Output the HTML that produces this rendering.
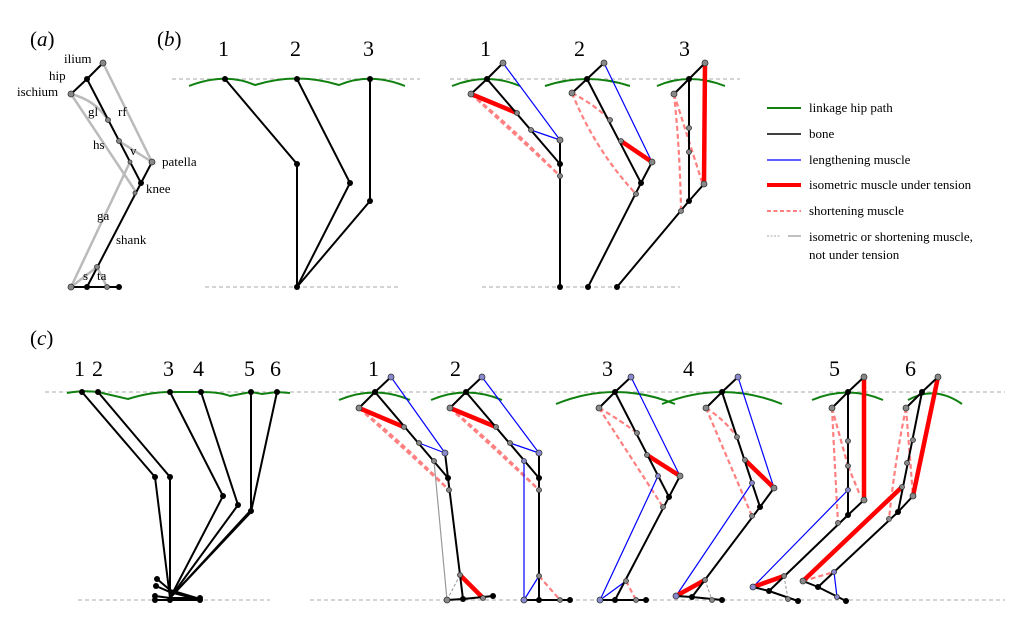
<!DOCTYPE html>
<html><head><meta charset="utf-8"><style>
html,body{margin:0;padding:0;background:#fff;}
svg{display:block;font-family:"Liberation Serif",serif;}
.b{stroke:#000;stroke-width:2;fill:none;stroke-linecap:round}
.g{stroke:#bbb;stroke-width:2.5;fill:none}
.bl{stroke:#0000ff;stroke-width:1.2;fill:none}
.r{stroke:#f00;stroke-width:4.5;fill:none}
.p{stroke:#ff8080;stroke-width:2.2;stroke-dasharray:5,3;fill:none}
.gd{stroke:#999;stroke-width:1;stroke-dasharray:3,2;fill:none}
.gt{stroke:#999;stroke-width:1.2;fill:none}
.h{stroke:#bbb;stroke-width:1.2;stroke-dasharray:4,3;fill:none}
.gr{stroke:#108010;stroke-width:2;fill:none}
.j{fill:#000}
.m{fill:#888;stroke:#333;stroke-width:.8}
.mb{fill:#8888cc;stroke:#333;stroke-width:.8}
.n{font-size:22px}
.t{font-size:13px}
</style></head><body>
<svg width="1023" height="642" viewBox="0 0 1023 642" xmlns="http://www.w3.org/2000/svg">
<!-- panel labels -->
<text x="30" y="46" font-size="21"><tspan>(</tspan><tspan font-style="italic">a</tspan><tspan>)</tspan></text>
<text x="157" y="46" font-size="21"><tspan>(</tspan><tspan font-style="italic">b</tspan><tspan>)</tspan></text>
<text x="30" y="345" font-size="21"><tspan>(</tspan><tspan font-style="italic">c</tspan><tspan>)</tspan></text>

<!-- (a) -->
<g>
<line class="g" x1="103" y1="63" x2="152" y2="162"/>
<path class="g" d="M71 94 Q95 100 108 120"/>
<line class="g" x1="71" y1="94" x2="136" y2="192"/>
<line class="g" x1="119" y1="141" x2="152" y2="162"/>
<line class="g" x1="71" y1="287" x2="130" y2="162"/>
<line class="g" x1="71" y1="287" x2="97" y2="267"/>
<line class="g" x1="97" y1="267" x2="107" y2="287"/>
<polyline class="b" points="103,63 87,79 71,94"/>
<line class="b" x1="87" y1="79" x2="141" y2="183"/>
<line class="b" x1="141" y1="183" x2="152" y2="162"/>
<line class="b" x1="141" y1="183" x2="87" y2="287"/>
<line class="b" x1="71" y1="287" x2="119" y2="287"/>
<circle class="m" cx="103" cy="63" r="3"/><circle class="j" cx="87" cy="79" r="3"/><circle class="m" cx="71" cy="94" r="3"/>
<circle class="m" cx="108" cy="120" r="2.5"/><circle class="m" cx="119" cy="141" r="2.5"/><circle class="m" cx="152" cy="162" r="3"/>
<circle class="j" cx="141" cy="183" r="3"/><circle class="m" cx="135" cy="193" r="2"/><circle class="m" cx="130" cy="162" r="2"/>
<circle class="m" cx="97" cy="267" r="2.5"/><circle class="m" cx="71" cy="287" r="3"/><circle class="j" cx="87" cy="287" r="3"/><circle class="m" cx="107" cy="287" r="2.5"/><circle class="j" cx="119" cy="287" r="3"/>
<g class="t">
<text x="64" y="63">ilium</text><text x="49" y="80">hip</text><text x="17" y="96">ischium</text>
<text x="88" y="116">gl</text><text x="118" y="116">rf</text><text x="93" y="149">hs</text><text x="130" y="155">v</text>
<text x="162" y="166">patella</text><text x="146" y="193">knee</text><text x="97" y="220">ga</text><text x="116" y="244">shank</text>
<text x="83" y="280">s</text><text x="97" y="280">ta</text>
</g>
</g>

<!-- (b) left -->
<line class="h" x1="172" y1="79" x2="420" y2="79"/>
<line class="h" x1="205" y1="287" x2="400" y2="287"/>
<path class="gr" d="M189 86 Q225 72 255 85 Q297 72 339 85 Q370 72 405 86"/>
<polyline class="b" points="225,79 297,164 297,287"/>
<polyline class="b" points="297,79 350,183 297,287"/>
<polyline class="b" points="370,79 370,201 297,287"/>
<g class="j"><circle cx="225" cy="79" r="3"/><circle cx="297" cy="79" r="3"/><circle cx="370" cy="79" r="3"/><circle cx="297" cy="164" r="3"/><circle cx="350" cy="183" r="3"/><circle cx="370" cy="201" r="3"/><circle cx="297" cy="287" r="3"/></g>
<g class="n"><text x="218" y="56">1</text><text x="290" y="56">2</text><text x="363" y="56">3</text></g>

<!-- (b) right -->
<line class="h" x1="450" y1="79" x2="740" y2="79"/>
<line class="h" x1="482" y1="287" x2="680" y2="287"/>
<path class="gr" d="M452 86 Q487 72 520 86"/>
<path class="gr" d="M545 86 Q587 72 630 86"/>
<path class="gr" d="M657 86 Q689 72 725 86"/>
<!-- b1 -->
<line class="p" x1="471" y1="94" x2="560" y2="176"/><path class="p" d="M471 94 Q510 125 560 176"/>
<line class="bl" x1="503" y1="63" x2="560" y2="140"/><line class="bl" x1="531" y1="130" x2="560" y2="140"/>
<line class="r" x1="471" y1="94" x2="517" y2="113"/>
<polyline class="b" points="503,63 487,79 471,94"/><line class="b" x1="487" y1="79" x2="560" y2="164"/><line class="b" x1="560" y1="140" x2="560" y2="287"/>
<circle class="m" cx="503" cy="63" r="3"/><circle class="j" cx="487" cy="79" r="3"/><circle class="m" cx="471" cy="94" r="3"/><circle class="m" cx="517" cy="113" r="2.5"/><circle class="m" cx="531" cy="130" r="2.5"/><circle class="m" cx="560" cy="140" r="3"/><circle class="j" cx="560" cy="164" r="3"/><circle class="m" cx="560" cy="176" r="2.5"/><circle class="j" cx="560" cy="287" r="3"/>
<!-- b2 -->
<path class="p" d="M572 93 Q595 105 610 120"/><path class="p" d="M572 93 Q595 150 636 194"/>
<line class="bl" x1="604" y1="63" x2="652" y2="162"/>
<line class="r" x1="621" y1="141" x2="652" y2="162"/>
<polyline class="b" points="604,63 587,79 572,93"/><polyline class="b" points="587,79 641,183 652,162"/><line class="b" x1="641" y1="183" x2="588" y2="287"/>
<circle class="m" cx="604" cy="63" r="3"/><circle class="j" cx="587" cy="79" r="3"/><circle class="m" cx="572" cy="93" r="3"/><circle class="m" cx="610" cy="120" r="2.5"/><circle class="m" cx="621" cy="141" r="2.5"/><circle class="m" cx="652" cy="162" r="3"/><circle class="j" cx="641" cy="183" r="3"/><circle class="m" cx="636" cy="194" r="2.5"/><circle class="j" cx="588" cy="287" r="3"/>
<!-- b3 -->
<path class="p" d="M674 94 Q680 150 681 211"/><line class="p" x1="674" y1="94" x2="702" y2="182"/>
<line class="r" x1="705" y1="63" x2="704" y2="184"/>
<polyline class="b" points="705,63 689,79 674,94"/><polyline class="b" points="689,79 689,201 704,184"/><line class="b" x1="689" y1="201" x2="617" y2="287"/>
<circle class="m" cx="705" cy="63" r="3"/><circle class="j" cx="689" cy="79" r="3"/><circle class="m" cx="674" cy="94" r="3"/><circle class="m" cx="689" cy="128" r="2.5"/><circle class="m" cx="689" cy="152" r="2.5"/><circle class="m" cx="704" cy="184" r="3"/><circle class="j" cx="689" cy="201" r="3"/><circle class="m" cx="681" cy="211" r="2.5"/><circle class="j" cx="617" cy="287" r="3"/>
<g class="n"><text x="480" y="56">1</text><text x="574" y="56">2</text><text x="679" y="56">3</text></g>

<!-- legend -->
<line x1="767" y1="108" x2="801" y2="108" stroke="#108010" stroke-width="2"/>
<line x1="767" y1="134" x2="801" y2="134" stroke="#000" stroke-width="1.5"/>
<line x1="767" y1="160" x2="801" y2="160" stroke="#00f" stroke-width="1.2"/>
<line x1="767" y1="185" x2="801" y2="185" stroke="#f00" stroke-width="4"/>
<line x1="767" y1="211" x2="801" y2="211" stroke="#ff8080" stroke-width="2" stroke-dasharray="4,2.5"/>
<line x1="767" y1="236" x2="781" y2="236" stroke="#aaa" stroke-width="1" stroke-dasharray="2,1.5"/>
<line x1="788" y1="236" x2="801" y2="236" stroke="#aaa" stroke-width="1.5"/>
<g class="t"><text x="809" y="112">linkage hip path</text><text x="809" y="138">bone</text><text x="809" y="164">lengthening muscle</text><text x="809" y="189">isometric muscle under tension</text><text x="809" y="215">shortening muscle</text><text x="809" y="241">isometric or shortening muscle,</text><text x="809" y="259">not under tension</text></g>

<!-- (c) left -->
<line class="h" x1="45" y1="392" x2="1005" y2="392"/>
<line class="h" x1="78" y1="600" x2="270" y2="600"/>
<line class="h" x1="310" y1="600" x2="1005" y2="600"/>
<path class="gr" d="M67 393 Q82 390 98 392 Q115 396 128 399 Q150 392 170 392 L201 392 Q220 392 230 396 L251 392 L262 394 L277 392 L290 393" stroke-width="1.6"/>
<polyline class="b" points="82,392 155,477 170,598"/>
<polyline class="b" points="98,392 170,477 170,598"/>
<polyline class="b" points="170,392 223,496 170,598"/>
<polyline class="b" points="201,392 238,505 170,598"/>
<polyline class="b" points="251,392 251,510 170,598"/>
<polyline class="b" points="277,392 251,512 170,598"/>
<polyline class="b" points="157,579 170,590 200,599"/>
<polyline class="b" points="156,586 170,592 200,600"/>
<polyline class="b" points="155,596 170,598 200,598"/>
<polyline class="b" points="155,600 170,600 200,600"/>
<g class="j"><circle cx="82" cy="392" r="3"/><circle cx="98" cy="392" r="3"/><circle cx="170" cy="392" r="3"/><circle cx="201" cy="392" r="3"/><circle cx="251" cy="392" r="3"/><circle cx="277" cy="392" r="3"/>
<circle cx="155" cy="477" r="3"/><circle cx="170" cy="477" r="3"/><circle cx="223" cy="496" r="3"/><circle cx="238" cy="505" r="3"/><circle cx="251" cy="511" r="3"/>
<circle cx="157" cy="579" r="3"/><circle cx="156" cy="586" r="3"/><circle cx="155" cy="596" r="3"/><circle cx="155" cy="600" r="3"/><circle cx="170" cy="600" r="3"/><circle cx="200" cy="598" r="3"/><circle cx="200" cy="600" r="3"/></g>
<g class="n"><text x="74" y="376">1</text><text x="92" y="376">2</text><text x="163" y="376">3</text><text x="193" y="376">4</text><text x="244" y="376">5</text><text x="270" y="376">6</text></g>

<!-- (c) right arcs -->
<path class="gr" d="M339 400 Q375 385 410 400"/>
<path class="gr" d="M431 400 Q466 385 502 400"/>
<path class="gr" d="M556 404 Q615 380 675 404"/>
<path class="gr" d="M662 404 Q722 380 782 404"/>
<path class="gr" d="M812 400 Q848 385 883 400"/>
<path class="gr" d="M908 400 Q935 385 962 404"/>

<!-- c1 -->
<line class="p" x1="359" y1="408" x2="449" y2="490"/><path class="p" d="M359 408 Q400 440 449 490"/>
<line class="bl" x1="391" y1="377" x2="445" y2="453"/><line class="bl" x1="419" y1="443" x2="445" y2="453"/>
<line class="gt" x1="434" y1="461" x2="447" y2="600"/><line class="gd" x1="460" y1="575" x2="447" y2="600"/>
<line class="r" x1="359" y1="408" x2="404" y2="427"/><line class="r" x1="460" y1="575" x2="483" y2="598"/>
<polyline class="b" points="391,377 375,392 359,408"/><polyline class="b" points="375,392 448,478 445,453"/><polyline class="b" points="448,478 463,599 493,596"/><line class="b" x1="447" y1="600" x2="463" y2="599"/>
<circle class="mb" cx="391" cy="377" r="3"/><circle class="j" cx="375" cy="392" r="3"/><circle class="m" cx="359" cy="408" r="3"/><circle class="m" cx="404" cy="427" r="2.5"/><circle class="m" cx="419" cy="443" r="2.5"/><circle class="m" cx="434" cy="461" r="2.5"/><circle class="mb" cx="445" cy="453" r="3"/><circle class="j" cx="448" cy="478" r="3"/><circle class="m" cx="449" cy="490" r="2.5"/><circle class="m" cx="460" cy="575" r="2.5"/><circle class="m" cx="447" cy="600" r="3"/><circle class="j" cx="463" cy="599" r="3"/><circle class="m" cx="483" cy="598" r="2.5"/><circle class="j" cx="493" cy="596" r="3"/>
<!-- c2 -->
<line class="p" x1="450" y1="408" x2="539" y2="490"/><path class="p" d="M450 408 Q490 440 539 490"/>
<line class="bl" x1="482" y1="377" x2="539" y2="453"/><line class="bl" x1="510" y1="443" x2="539" y2="453"/><line class="bl" x1="524" y1="461" x2="524" y2="600"/><line class="bl" x1="539" y1="576" x2="524" y2="600"/>
<line class="p" x1="539" y1="576" x2="560" y2="600"/>
<line class="r" x1="450" y1="408" x2="496" y2="427"/>
<polyline class="b" points="482,377 466,392 450,408"/><line class="b" x1="466" y1="392" x2="539" y2="478"/><line class="b" x1="539" y1="453" x2="539" y2="600"/><line class="b" x1="524" y1="600" x2="570" y2="600"/>
<circle class="mb" cx="482" cy="377" r="3"/><circle class="j" cx="466" cy="392" r="3"/><circle class="m" cx="450" cy="408" r="3"/><circle class="m" cx="496" cy="427" r="2.5"/><circle class="m" cx="510" cy="443" r="2.5"/><circle class="mb" cx="524" cy="461" r="2.5"/><circle class="mb" cx="539" cy="453" r="3"/><circle class="j" cx="539" cy="478" r="3"/><circle class="m" cx="539" cy="490" r="2.5"/><circle class="m" cx="539" cy="576" r="2.5"/><circle class="mb" cx="524" cy="600" r="3"/><circle class="j" cx="539" cy="600" r="3"/><circle class="m" cx="560" cy="600" r="2.5"/><circle class="j" cx="570" cy="600" r="3"/>
<!-- c3 -->
<path class="p" d="M599 408 Q620 420 637 433"/><line class="p" x1="599" y1="408" x2="663" y2="507"/>
<line class="bl" x1="631" y1="377" x2="680" y2="476"/><line class="bl" x1="658" y1="476" x2="600" y2="600"/><line class="bl" x1="626" y1="581" x2="600" y2="600"/>
<line class="p" x1="626" y1="581" x2="636" y2="600"/>
<line class="r" x1="647" y1="455" x2="680" y2="476"/>
<polyline class="b" points="631,377 615,392 599,408"/><polyline class="b" points="615,392 669,497 680,476"/><polyline class="b" points="669,497 615,600"/><line class="b" x1="600" y1="600" x2="646" y2="600"/>
<circle class="mb" cx="631" cy="377" r="3"/><circle class="j" cx="615" cy="392" r="3"/><circle class="m" cx="599" cy="408" r="3"/><circle class="m" cx="637" cy="433" r="2.5"/><circle class="m" cx="647" cy="455" r="2.5"/><circle class="mb" cx="658" cy="476" r="2.5"/><circle class="m" cx="680" cy="476" r="3"/><circle class="j" cx="669" cy="497" r="3"/><circle class="m" cx="663" cy="507" r="2.5"/><circle class="m" cx="626" cy="581" r="2.5"/><circle class="mb" cx="600" cy="600" r="3"/><circle class="j" cx="615" cy="600" r="3"/><circle class="m" cx="636" cy="600" r="2.5"/><circle class="j" cx="646" cy="600" r="3"/>
<!-- c4 -->
<path class="p" d="M706 408 Q725 420 737 437"/><line class="p" x1="706" y1="408" x2="752" y2="516"/>
<line class="bl" x1="738" y1="377" x2="774" y2="488"/><line class="bl" x1="752" y1="483" x2="676" y2="596"/>
<line class="gd" x1="705" y1="580" x2="712" y2="600"/>
<line class="r" x1="745" y1="460" x2="774" y2="488"/><line class="r" x1="676" y1="596" x2="705" y2="580"/>
<polyline class="b" points="738,377 722,392 706,408"/><polyline class="b" points="722,392 760,507 774,488"/><line class="b" x1="760" y1="507" x2="692" y2="597"/><polyline class="b" points="676,596 692,597 722,600"/>
<circle class="mb" cx="738" cy="377" r="3"/><circle class="j" cx="722" cy="392" r="3"/><circle class="m" cx="706" cy="408" r="3"/><circle class="m" cx="737" cy="437" r="2.5"/><circle class="m" cx="745" cy="460" r="2.5"/><circle class="mb" cx="752" cy="483" r="2.5"/><circle class="m" cx="774" cy="488" r="3"/><circle class="j" cx="760" cy="507" r="3"/><circle class="m" cx="752" cy="516" r="2.5"/><circle class="m" cx="705" cy="580" r="2.5"/><circle class="mb" cx="676" cy="596" r="3"/><circle class="j" cx="692" cy="597" r="3"/><circle class="m" cx="712" cy="600" r="2.5"/><circle class="j" cx="722" cy="600" r="3"/>
<!-- c5 -->
<path class="p" d="M832 408 Q835 470 838 523"/><line class="p" x1="832" y1="408" x2="848" y2="466"/><line class="p" x1="848" y1="466" x2="860" y2="495"/>
<line class="bl" x1="848" y1="490" x2="753" y2="587"/>
<line class="gd" x1="784" y1="576" x2="788" y2="599"/>
<line class="r" x1="864" y1="377" x2="864" y2="500"/><line class="r" x1="753" y1="587" x2="784" y2="576"/>
<polyline class="b" points="864,377 848,392 832,408"/><polyline class="b" points="848,392 848,515 864,500"/><line class="b" x1="848" y1="515" x2="769" y2="591"/><polyline class="b" points="753,587 769,591 798,601"/>
<circle class="m" cx="864" cy="377" r="3"/><circle class="j" cx="848" cy="392" r="3"/><circle class="m" cx="832" cy="408" r="3"/><circle class="m" cx="848" cy="441" r="2.5"/><circle class="m" cx="848" cy="466" r="2.5"/><circle class="mb" cx="848" cy="490" r="2.5"/><circle class="m" cx="864" cy="500" r="3"/><circle class="j" cx="848" cy="515" r="3"/><circle class="m" cx="838" cy="523" r="2.5"/><circle class="m" cx="784" cy="576" r="2.5"/><circle class="mb" cx="753" cy="587" r="3"/><circle class="j" cx="769" cy="591" r="3"/><circle class="m" cx="788" cy="599" r="2.5"/><circle class="j" cx="798" cy="601" r="3"/>
<!-- c6 -->
<path class="p" d="M906 408 Q895 460 889 519"/><line class="p" x1="906" y1="408" x2="913" y2="496"/><line class="p" x1="803" y1="581" x2="834" y2="572"/>
<line class="bl" x1="834" y1="572" x2="837" y2="597"/>
<line class="r" x1="938" y1="377" x2="913" y2="496"/><line class="r" x1="803" y1="581" x2="902" y2="487"/>
<polyline class="b" points="938,377 922,392 906,408"/><polyline class="b" points="922,392 898,512 913,496"/><line class="b" x1="898" y1="512" x2="818" y2="587"/><polyline class="b" points="803,581 818,587 846,601"/>
<circle class="m" cx="938" cy="377" r="3"/><circle class="j" cx="922" cy="392" r="3"/><circle class="m" cx="906" cy="408" r="3"/><circle class="m" cx="913" cy="440" r="2.5"/><circle class="m" cx="907" cy="463" r="2.5"/><circle class="m" cx="902" cy="487" r="2.5"/><circle class="m" cx="913" cy="496" r="3"/><circle class="j" cx="898" cy="512" r="3"/><circle class="m" cx="889" cy="519" r="2.5"/><circle class="mb" cx="834" cy="572" r="2.5"/><circle class="m" cx="803" cy="581" r="3"/><circle class="j" cx="818" cy="587" r="3"/><circle class="mb" cx="837" cy="597" r="2.5"/><circle class="j" cx="846" cy="601" r="3"/>
<g class="n"><text x="368" y="376">1</text><text x="450" y="376">2</text><text x="602" y="376">3</text><text x="683" y="376">4</text><text x="829" y="376">5</text><text x="905" y="376">6</text></g>
</svg>
</body></html>
